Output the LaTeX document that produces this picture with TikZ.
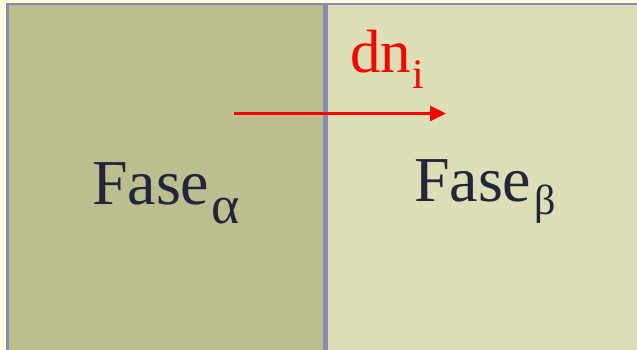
\documentclass[tikz,border=0pt]{standalone}
\usepackage{fontspec}
\setmainfont{Liberation Serif}
\usetikzlibrary{arrows.meta}
\definecolor{bgyellow}{HTML}{FFFFE0}
\definecolor{phasea}{HTML}{BBBF90}
\definecolor{phaseb}{HTML}{DCDEB5}
\definecolor{borderc}{HTML}{8A8AB2}
\definecolor{txtc}{HTML}{23263A}
\tikzset{
  lbl/.style={anchor=base west, inner sep=0pt, outer sep=0pt, text=txtc},
  flowarrow/.style={draw=red, line width=3pt, -{Triangle[length=16pt,width=15pt]}},
  phasebox/.style={draw=none, inner sep=0pt, outer sep=0pt, anchor=north west}
}
\begin{document}
\begin{tikzpicture}[x=1pt,y=-1pt]
\useasboundingbox (0,0) rectangle (637,350);
\fill[bgyellow] (0,0) rectangle (637,350);
% phases
\node[phasebox, fill=phasea, minimum width=318pt, minimum height=350pt] (alpha) at (7.5,4) {};
\node[phasebox, fill=phaseb, minimum width=320pt, minimum height=350pt] (beta) at (325.5,4) {};
% borders
\draw[borderc, line width=2.5pt] (7.5,360) -- (7.5,4) -- (645,4);
\draw[borderc, line width=4.5pt] (325.5,4) -- (325.5,360);
% labels
\node[lbl] (fa) at (92,204) {\fontsize{64}{64}\selectfont Fase\kern2pt\raisebox{-19pt}{\fontsize{54}{54}\selectfont α}};
\node[lbl] (fb) at (414,201.7) {\fontsize{64}{64}\selectfont Fase\kern3pt\raisebox{-13pt}{\fontsize{42}{42}\selectfont β}};
\node[lbl, text=red] (dn) at (350,72.7) {\fontsize{61}{61}\selectfont dn\kern1pt\raisebox{-16pt}{\fontsize{42}{42}\selectfont i}};
% arrow
\coordinate (astart) at (234,113.5);
\coordinate (aend) at (446,113.5);
\draw[flowarrow] (astart) -- (aend);
\end{tikzpicture}
\end{document}
